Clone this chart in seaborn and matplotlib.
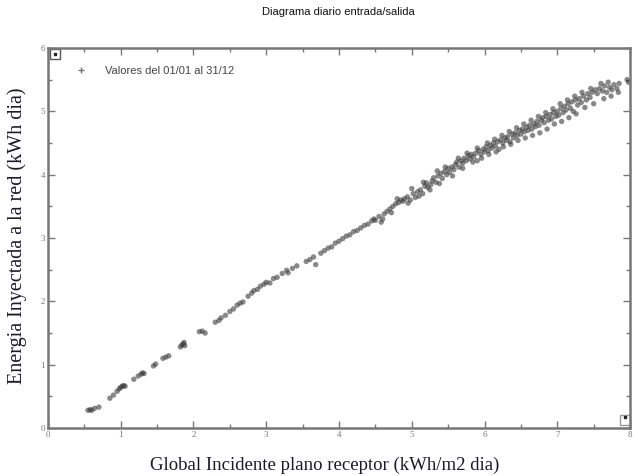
import matplotlib
matplotlib.use("Agg")
import matplotlib.pyplot as plt
import seaborn as sns
import pandas as pd
from matplotlib.lines import Line2D
from matplotlib.ticker import MultipleLocator

title = "Diagrama diario entrada/salida"
xlabel = "Global Incidente plano receptor (kWh/m2 dia)"
ylabel = "Energia Inyectada a la red (kWh dia)"
legend_label = "Valores del 01/01 al 31/12"

x_vals = [0.55, 0.58, 0.60, 0.64, 0.70,
          0.85, 0.90, 0.95, 0.98, 1.00, 1.02, 1.04, 1.06,
          1.18, 1.24, 1.28, 1.30, 1.32,
          1.45, 1.48, 1.58, 1.62, 1.66,
          1.82, 1.84, 1.86, 1.88, 1.87,
          2.08, 2.12, 2.16,
          2.30, 2.35, 2.38, 2.44, 2.50, 2.55, 2.60, 2.64, 2.68,
          2.75, 2.80, 2.83, 2.88, 2.92, 2.97, 3.00, 3.05,
          3.10, 3.15, 3.22, 3.28, 3.30, 3.36, 3.42,
          3.55, 3.60, 3.65, 3.68, 3.75, 3.80, 3.85, 3.90, 3.95, 4.00,
          4.05, 4.10, 4.15, 4.20, 4.25, 4.30, 4.35, 4.40, 4.45, 4.48, 4.50, 4.55, 4.58,
          4.62, 4.66, 4.70, 4.74, 4.78, 4.82, 4.85, 4.88, 4.90, 4.94, 4.98, 5.02, 5.05, 5.08, 5.12, 5.15, 5.18, 5.20, 5.22, 5.25, 5.28,
          5.30, 5.33, 5.36, 5.40, 5.42, 5.45, 5.48, 5.50, 5.52, 5.55, 5.58, 5.60, 5.62, 5.65, 5.68, 5.70, 5.72, 5.75, 5.78, 5.80, 5.82, 5.85, 5.88, 5.90, 5.92, 5.95, 5.98,
          6.00, 6.02, 6.05, 6.08, 6.10, 6.12, 6.15, 6.18, 6.20, 6.22, 6.25, 6.28, 6.30, 6.32, 6.35, 6.38, 6.40, 6.42, 6.45, 6.48, 6.50, 6.52, 6.55, 6.58, 6.60, 6.62, 6.65, 6.68, 6.70, 6.72, 6.75, 6.78, 6.80, 6.82, 6.85, 6.88, 6.90, 6.92, 6.95, 6.98,
          7.00, 7.02, 7.05, 7.08, 7.10, 7.12, 7.15, 7.18, 7.20, 7.22, 7.25, 7.28, 7.30, 7.33, 7.36, 7.40, 7.42, 7.45, 7.48, 7.52, 7.55, 7.58, 7.62, 7.65, 7.68, 7.72, 7.75, 7.78, 7.82, 7.96, 7.98,
          4.60, 4.72, 4.80, 4.95, 5.00, 5.10, 5.16, 5.26, 5.35, 5.38, 5.46, 5.56, 5.64, 5.70, 5.76, 5.84, 5.90, 5.96,
          6.04, 6.06, 6.14, 6.16, 6.24, 6.26, 6.34, 6.36, 6.44, 6.46, 6.54, 6.56, 6.64, 6.66, 6.74, 6.76, 6.84, 6.86, 6.94, 6.96,
          7.04, 7.06, 7.14, 7.16, 7.24, 7.26, 7.34, 7.38, 7.46, 7.50, 7.60, 7.64, 7.70, 7.74, 7.84, 7.85]

y_vals = [0.28, 0.29, 0.28, 0.31, 0.33,
          0.47, 0.52, 0.58, 0.62, 0.64, 0.66, 0.67, 0.66,
          0.77, 0.82, 0.85, 0.87, 0.86,
          0.98, 1.01, 1.10, 1.12, 1.14,
          1.28, 1.31, 1.33, 1.30, 1.35,
          1.52, 1.53, 1.50,
          1.67, 1.70, 1.74, 1.78, 1.84, 1.88, 1.94, 1.97, 1.99,
          2.08, 2.13, 2.17, 2.19, 2.24, 2.27, 2.30, 2.29,
          2.36, 2.38, 2.44, 2.49, 2.45, 2.52, 2.56,
          2.63, 2.66, 2.70, 2.58, 2.76, 2.80, 2.84, 2.86, 2.92, 2.95,
          2.99, 3.03, 3.05, 3.10, 3.12, 3.16, 3.20, 3.22, 3.27, 3.30, 3.28, 3.34, 3.25,
          3.38, 3.42, 3.46, 3.50, 3.54, 3.56, 3.60, 3.58, 3.62, 3.65, 3.60, 3.70, 3.64, 3.73, 3.76, 3.70, 3.82, 3.87, 3.80, 3.76, 3.90,
          3.95, 3.88, 3.98, 4.02, 3.94, 4.05, 4.00, 4.10, 4.04, 4.12, 4.08, 4.16, 4.20, 4.12, 4.22, 4.18, 4.26, 4.22, 4.30, 4.25, 4.32, 4.28, 4.34, 4.22, 4.38, 4.32, 4.40,
          4.36, 4.44, 4.38, 4.46, 4.42, 4.50, 4.45, 4.52, 4.40, 4.55, 4.50, 4.58, 4.54, 4.60, 4.52, 4.64, 4.58, 4.66, 4.62, 4.70, 4.64, 4.72, 4.68, 4.75, 4.70, 4.78, 4.72, 4.80, 4.76, 4.84, 4.78, 4.86, 4.90, 4.82, 4.92, 4.86, 4.95, 4.88, 4.98, 4.92,
          5.00, 4.94, 5.05, 4.98, 5.08, 5.02, 5.12, 5.05, 5.15, 5.00, 5.18, 5.10, 5.20, 5.14, 5.24, 5.18, 5.28, 5.22, 5.30, 5.34, 5.28, 5.36, 5.32, 5.40, 5.30, 5.38, 5.34, 5.42, 5.36, 5.50, 5.46,
          3.30, 3.40, 3.62, 3.55, 3.78, 3.66, 3.88, 3.84, 4.06, 3.86, 4.12, 3.98, 4.26, 4.10, 4.34, 4.20, 4.42, 4.26,
          4.50, 4.32, 4.56, 4.36, 4.62, 4.44, 4.68, 4.48, 4.74, 4.54, 4.80, 4.58, 4.86, 4.62, 4.92, 4.66, 4.98, 4.72, 5.04, 4.80,
          5.12, 4.84, 5.18, 4.90, 5.24, 4.96, 5.30, 5.06, 5.36, 5.12, 5.44, 5.20, 5.46, 5.24, 5.30, 5.44]

df = pd.DataFrame({"x": x_vals, "y": y_vals})

sns.set_style("white")
plt.rcParams['font.family'] = ['Liberation Sans', 'DejaVu Sans']

fig = plt.figure(figsize=(6.38, 4.76), dpi=100)
ax = fig.add_axes([0.0752, 0.1008, 0.9123, 0.7984])

sns.scatterplot(data=df, x="x", y="y", ax=ax, marker="o", s=15, color="#3a3a3a",
                edgecolor="none", alpha=0.6, legend=False)

ax.set_xlim(0, 8)
ax.set_ylim(0, 6)
ax.xaxis.set_major_locator(MultipleLocator(1))
ax.xaxis.set_minor_locator(MultipleLocator(0.5))
ax.yaxis.set_major_locator(MultipleLocator(1))
ax.yaxis.set_minor_locator(MultipleLocator(0.5))
ax.tick_params(which="both", direction="in", top=True, right=True, bottom=True, left=True,
               color="#777777", width=1.0)
ax.tick_params(which="major", length=5, labelsize=6.5, labelcolor="#777777", pad=2)
ax.tick_params(which="minor", length=3)
for lab in ax.get_xticklabels() + ax.get_yticklabels():
    lab.set_family("Liberation Serif")
for sp in ax.spines.values():
    sp.set_color("#777777")
    sp.set_linewidth(1.8)

ax.set_xlabel(xlabel, family="Liberation Serif", fontsize=13.5, color="#1a1a2a")
ax.set_ylabel(ylabel, family="Liberation Serif", fontsize=14.5, color="#1a1a2a")
ax.xaxis.set_label_coords(0.476, -0.075)
ax.yaxis.set_label_coords(-0.036, 0.505)
fig.suptitle(title, x=0.53, y=0.985, fontsize=8, color="#111111")

handle = Line2D([], [], linestyle="none", marker="+", markersize=4, color="#777777")
ax.legend(handles=[handle], labels=[legend_label], loc="upper left", frameon=False,
          fontsize=8, bbox_to_anchor=(0.02, 0.98), handletextpad=1.2,
          labelcolor="#444444")

# small corner boxes
ax.plot([0.012], [0.985], marker="s", ms=7, mfc="white", mec="#555555", mew=1,
        transform=ax.transAxes, clip_on=False)
ax.plot([0.012], [0.985], marker="s", ms=2, color="#222222",
        transform=ax.transAxes, clip_on=False)
ax.plot([0.992], [0.02], marker="s", ms=7, mfc="white", mec="#999999", mew=1,
        transform=ax.transAxes, clip_on=False)
ax.plot([0.992], [0.03], marker="s", ms=2, color="#222222",
        transform=ax.transAxes, clip_on=False)

fig.savefig("out.png", dpi=100)
